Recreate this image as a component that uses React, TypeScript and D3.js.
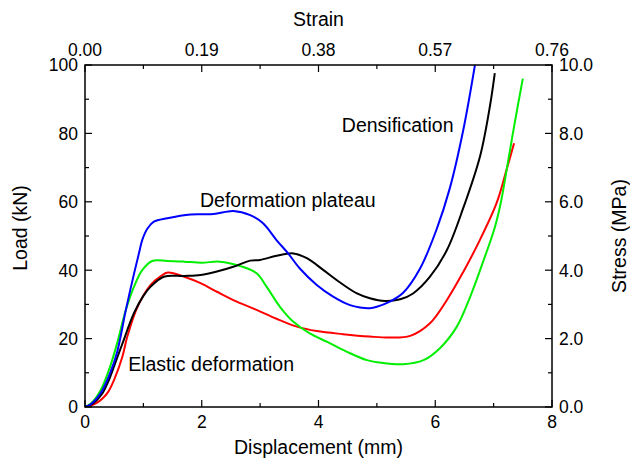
import React from "react";
import * as d3 from "d3";

// Displacement (mm) / Load (kN) for each specimen
const blueD = [0, 0.1, 0.2, 0.3, 0.43, 0.55, 0.7, 0.84, 0.925, 0.98, 1.07, 1.18, 1.41, 1.81, 2.2, 2.54, 2.83, 3.05, 3.28, 3.48, 3.68, 3.97, 4.25, 4.54, 4.71, 4.88, 5.0, 5.22, 5.45, 5.74, 6.02, 6.25, 6.48, 6.68];
const blueL = [0, 0.8, 2.5, 5, 9.9, 16, 28.4, 39, 45, 48.8, 52.2, 54.2, 55.2, 56.3, 56.4, 57.3, 56.1, 53.7, 48.8, 44.9, 40.5, 35.7, 32.3, 29.8, 29.1, 28.9, 29.3, 30.8, 33.4, 40.5, 51.8, 64, 81, 100];

const blackD = [0, 0.1, 0.2, 0.3, 0.4, 0.5, 0.64, 0.84, 1.0, 1.125, 1.35, 1.7, 1.98, 2.26, 2.54, 2.83, 3.0, 3.28, 3.57, 3.8, 4.08, 4.37, 4.65, 4.88, 5.14, 5.4, 5.62, 5.91, 6.2, 6.48, 6.77, 6.94, 7.02];
const blackL = [0, 0.7, 2, 4, 7.5, 12, 18.5, 27.5, 32.5, 35.2, 38.1, 38.3, 38.6, 39.6, 41, 42.8, 43, 44.2, 44.9, 43.5, 40.1, 36.4, 33.3, 31.8, 31, 31.5, 33.2, 38.1, 45.9, 58.2, 73.5, 88.3, 97.6];

const redD = [0, 0.1, 0.2, 0.3, 0.4, 0.5, 0.64, 0.725, 0.9, 1.125, 1.3, 1.42, 1.7, 1.98, 2.26, 2.6, 2.94, 3.28, 3.63, 3.97, 4.42, 4.88, 5.22, 5.57, 5.91, 6.2, 6.48, 6.74, 7.05, 7.22, 7.35];
const redL = [0, 0.4, 1.2, 2.5, 4.5, 8, 14.7, 20.6, 29.3, 35.7, 38.3, 39.3, 38.1, 36.2, 33.7, 30.8, 28.4, 25.8, 23.5, 22.2, 21.3, 20.6, 20.3, 20.8, 24.5, 31.3, 39.5, 48, 59.6, 69.3, 77.1];

const greenD = [0, 0.1, 0.2, 0.3, 0.43, 0.55, 0.7, 0.84, 0.98, 1.15, 1.41, 1.7, 2.0, 2.31, 2.66, 2.94, 3.11, 3.34, 3.57, 3.85, 4.14, 4.48, 4.83, 5.05, 5.45, 5.8, 6.08, 6.37, 6.6, 6.82, 7.02, 7.12, 7.22, 7.35, 7.5];
const greenL = [0, 1, 3, 6, 11.8, 18.6, 28.4, 35.2, 40, 42.7, 42.7, 42.5, 42.2, 42.5, 41.2, 39.1, 35.2, 29.3, 24.9, 21.5, 19.1, 16.2, 13.7, 13, 12.5, 13.7, 17.2, 23.5, 32.3, 42.5, 52.5, 59.5, 69, 82, 96];

const bottomTicks = [0, 2, 4, 6, 8];
const bottomMinor = [1, 3, 5, 7];
const topTickLabels = ["0.00", "0.19", "0.38", "0.57", "0.76"];
const leftTicks = [0, 20, 40, 60, 80, 100];
const leftMinor = [10, 30, 50, 70, 90];
const rightTickLabels = ["0.0", "2.0", "4.0", "6.0", "8.0", "10.0"];

const annotations = [
  { text: "Densification", d: 4.4, load: 80.5 },
  { text: "Deformation plateau", d: 1.97, load: 58.5 },
  { text: "Elastic deformation", d: 0.74, load: 10.5 },
];

const series = [
  { d: redD, l: redL, color: "#ff0000" },
  { d: greenD, l: greenL, color: "#00ee00" },
  { d: blackD, l: blackL, color: "#000000" },
  { d: blueD, l: blueL, color: "#0000ff" },
];

export default function App() {
  const W = 630, H = 461;
  const left = 85, right = 552, top = 65, bottom = 407;
  const x = d3.scaleLinear().domain([0, 8]).range([left, right]);
  const y = d3.scaleLinear().domain([0, 100]).range([bottom, top]);
  const font = "'Liberation Sans', Arial, Helvetica, sans-serif";
  const major = 7, minor = 4;

  const pathFor = (ds: number[], ls: number[]) =>
    d3
      .line<number>()
      .x((_, j) => x(ds[j]))
      .y((v) => y(v))
      .curve(d3.curveCatmullRom.alpha(0.5))(ls) || "";

  return (
    <svg width={W} height={H} style={{ position: "absolute", left: 0, top: 0, background: "#fff" }} fontFamily={font}>
      <defs>
        <clipPath id="plot">
          <rect x={left} y={top} width={right - left} height={bottom - top} />
        </clipPath>
      </defs>
      <g clipPath="url(#plot)">
        {series.map((s, i) => (
          <path key={i} d={pathFor(s.d, s.l)} fill="none" stroke={s.color} strokeWidth={2} strokeLinejoin="round" />
        ))}
      </g>
      <rect x={left} y={top} width={right - left} height={bottom - top} fill="none" stroke="#000" strokeWidth={1.5} />
      {bottomTicks.map((t) => (
        <g key={"b" + t}>
          <line x1={x(t)} x2={x(t)} y1={bottom} y2={bottom - major} stroke="#000" strokeWidth={1.2} />
          <line x1={x(t)} x2={x(t)} y1={top} y2={top + major} stroke="#000" strokeWidth={1.2} />
          <text x={x(t)} y={428} textAnchor="middle" fontSize={17.5}>{t}</text>
        </g>
      ))}
      {bottomMinor.map((t) => (
        <g key={"bm" + t}>
          <line x1={x(t)} x2={x(t)} y1={bottom} y2={bottom - minor} stroke="#000" strokeWidth={1.2} />
          <line x1={x(t)} x2={x(t)} y1={top} y2={top + minor} stroke="#000" strokeWidth={1.2} />
        </g>
      ))}
      {topTickLabels.map((lab, i) => (
        <text key={"t" + i} x={x(bottomTicks[i])} y={56} textAnchor="middle" fontSize={17.5}>{lab}</text>
      ))}
      {leftTicks.map((t, i) => (
        <g key={"l" + t}>
          <line x1={left} x2={left + major} y1={y(t)} y2={y(t)} stroke="#000" strokeWidth={1.2} />
          <line x1={right} x2={right - major} y1={y(t)} y2={y(t)} stroke="#000" strokeWidth={1.2} />
          <text x={78} y={y(t)} dy="0.36em" textAnchor="end" fontSize={17.5}>{t}</text>
          <text x={559} y={y(t)} dy="0.36em" textAnchor="start" fontSize={17.5}>{rightTickLabels[i]}</text>
        </g>
      ))}
      {leftMinor.map((t) => (
        <g key={"lm" + t}>
          <line x1={left} x2={left + minor} y1={y(t)} y2={y(t)} stroke="#000" strokeWidth={1.2} />
          <line x1={right} x2={right - minor} y1={y(t)} y2={y(t)} stroke="#000" strokeWidth={1.2} />
        </g>
      ))}
      <text x={(left + right) / 2} y={26} textAnchor="middle" fontSize={19.5}>Strain</text>
      <text x={(left + right) / 2} y={454} textAnchor="middle" fontSize={19.5}>Displacement (mm)</text>
      <text transform={`translate(27,228) rotate(-90)`} textAnchor="middle" fontSize={19.5}>Load (kN)</text>
      <text transform={`translate(626,236) rotate(-90)`} textAnchor="middle" fontSize={19.5}>Stress (MPa)</text>
      {annotations.map((a, i) => (
        <text key={"a" + i} x={x(a.d)} y={y(a.load)} fontSize={19.5}>{a.text}</text>
      ))}
    </svg>
  );
}
